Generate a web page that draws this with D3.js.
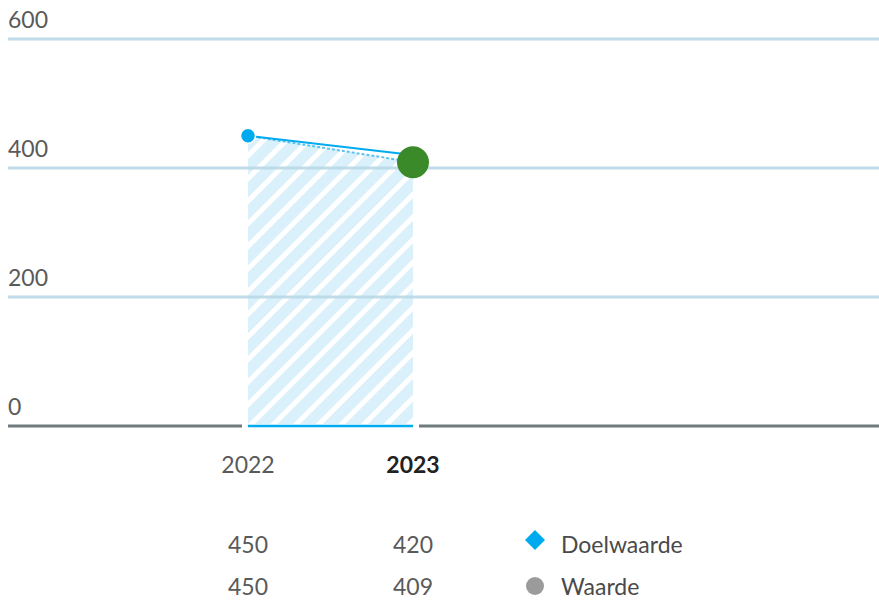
<!DOCTYPE html>
<html><head><meta charset="utf-8">
<script src="https://cdn.jsdelivr.net/npm/d3@7"></script>
<style>body{margin:0;background:#fff}svg{display:block}text{font-family:Lato,"Open Sans",sans-serif}</style>
</head><body><div id="chart"></div>
<script>
const years = ["2022", "2023"];
const doelwaarde = [450, 420];
const waarde = [450, 409];
const yTicks = [0, 200, 400, 600];
const seriesNames = ["Doelwaarde", "Waarde"];

const W = 879, H = 601;
const svg = d3.select("#chart").append("svg").attr("width", W).attr("height", H);
const y = d3.scaleLinear().domain([0, 600]).range([426, 39]);
const x = d3.scalePoint().domain(years).range([248, 413]);

const defs = svg.append("defs");
const pat = defs.append("pattern").attr("id", "hatch").attr("patternUnits", "userSpaceOnUse")
  .attr("width", 16).attr("height", 16).attr("patternTransform", "rotate(45)");
pat.append("rect").attr("width", 16).attr("height", 16).attr("fill", "#fff");
pat.append("rect").attr("width", 11).attr("height", 16).attr("fill", "#daf0fb");

// area
const area = d3.area().x((d, i) => x(years[i])).y0(y(0)).y1(d => y(d));
svg.append("path").datum(waarde).attr("d", area).attr("fill", "url(#hatch)");

// gridlines
svg.append("g").selectAll("line").data(yTicks.filter(d => d > 0)).join("line")
  .attr("x1", 8).attr("x2", W).attr("y1", d => y(d)).attr("y2", d => y(d))
  .attr("stroke", "#b9d9e6").attr("stroke-width", 3).attr("opacity", 0.9);
svg.append("g").selectAll("text").data(yTicks).join("text")
  .attr("x", 8).attr("y", d => y(d) - 11)
  .attr("font-size", 23).attr("fill", "#5a5a5a").text(d => d);

// axis baseline
svg.append("line").attr("x1", 8).attr("x2", W).attr("y1", y(0)).attr("y2", y(0))
  .attr("stroke", "#6f7a7d").attr("stroke-width", 3);
svg.append("line").attr("x1", x("2022") - 6).attr("x2", x("2023") + 6).attr("y1", y(0)).attr("y2", y(0))
  .attr("stroke", "#fff").attr("stroke-width", 4);
svg.append("line").attr("x1", x("2022")).attr("x2", x("2023")).attr("y1", y(0)).attr("y2", y(0))
  .attr("stroke", "#00aaef").attr("stroke-width", 2.5);

// waarde line (dotted)
const line = d3.line().x((d, i) => x(years[i])).y(d => y(d));
svg.append("path").datum(waarde).attr("d", line).attr("fill", "none")
  .attr("stroke", "#5bc3f0").attr("stroke-width", 2).attr("stroke-dasharray", "3,2");
// doelwaarde line
svg.append("path").datum(doelwaarde).attr("d", line).attr("fill", "none")
  .attr("stroke", "#00aaef").attr("stroke-width", 2);

svg.append("circle").attr("cx", x("2022")).attr("cy", y(doelwaarde[0])).attr("r", 7.5)
  .attr("fill", "#00aaef").attr("stroke", "#fff").attr("stroke-width", 1.5);
svg.append("circle").attr("cx", x("2023")).attr("cy", y(waarde[1])).attr("r", 16)
  .attr("fill", "#3b8a2a");

// x labels
svg.append("g").selectAll("text").data(years).join("text")
  .attr("x", d => x(d)).attr("y", 473).attr("text-anchor", "middle")
  .attr("font-size", 23).attr("fill", d => d === "2023" ? "#222" : "#5a5a5a")
  .attr("font-weight", d => d === "2023" ? "bold" : "normal").text(d => d);

// table
[doelwaarde, waarde].forEach((arr, r) => {
  svg.append("g").selectAll("text").data(arr).join("text")
    .attr("x", (d, i) => x(years[i])).attr("y", 553 + r * 42).attr("text-anchor", "middle")
    .attr("font-size", 23).attr("fill", "#5a5a5a").text(d => d);
});
// legend
svg.append("path").attr("d", d3.symbol(d3.symbolSquare, 200)()).attr("transform", "translate(535,540) rotate(45)")
  .attr("fill", "#00aaef");
svg.append("circle").attr("cx", 535).attr("cy", 586).attr("r", 9).attr("fill", "#9b9b9b");
seriesNames.forEach((n, i) => {
  svg.append("text").attr("x", 561).attr("y", 553 + i * 42).attr("font-size", 23)
    .attr("fill", "#4a4a4a").text(n);
});
</script></body></html>
